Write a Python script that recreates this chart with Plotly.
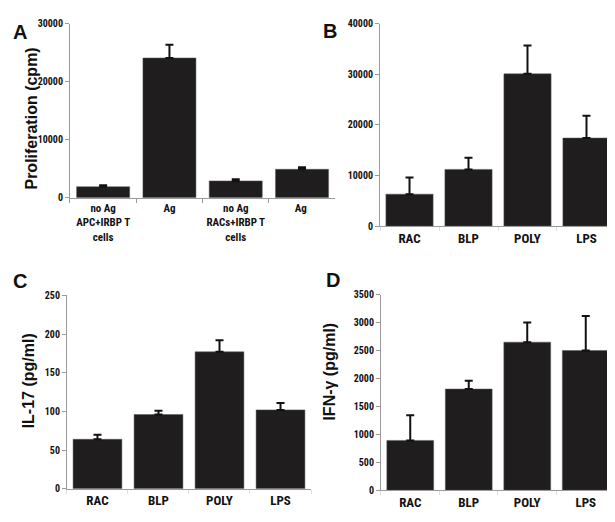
import plotly.graph_objects as go

# Panel A
a_cats = ["no Ag<br>APC+IRBP T<br>cells", "Ag", "no Ag<br>RACs+IRBP T<br>cells", "Ag "]
a_vals = [1900, 24100, 2900, 4900]
a_err = [250, 2300, 300, 350]
a_ticks = [0, 10000, 20000, 30000]

# Panels B-D share categories
cats = ["RAC", "BLP", "POLY", "LPS"]
b_vals = [6300, 11200, 30100, 17400]
b_err = [3300, 2300, 5600, 4400]
b_ticks = [0, 10000, 20000, 30000, 40000]

c_vals = [64, 96, 177, 102]
c_err = [6, 5, 15, 9]
c_ticks = [0, 50, 100, 150, 200, 250]

d_vals = [890, 1810, 2650, 2500]
d_err = [450, 150, 350, 620]
d_ticks = [0, 500, 1000, 1500, 2000, 2500, 3000, 3500]

y_titles = ["Proliferation (cpm)", "IL-17 (pg/ml)", "IFN-γ (pg/ml)"]

BAR = "#201d1e"
FONT = "Roboto Condensed, Liberation Sans Narrow, Arial Narrow, DejaVu Sans Condensed, Liberation Sans, sans-serif"
AXC = "#9a9a9a"

fig = go.Figure()

panels = [
    (a_cats, a_vals, a_err, "x", "y"),
    (cats, b_vals, b_err, "x2", "y2"),
    (cats, c_vals, c_err, "x3", "y3"),
    (cats, d_vals, d_err, "x4", "y4"),
]
for cx, v, e, xa, ya in panels:
    fig.add_trace(go.Bar(
        x=cx, y=v, xaxis=xa, yaxis=ya,
        marker=dict(color=BAR, line=dict(color="#555", width=0.5)),
        error_y=dict(type="data", symmetric=False, array=e, arrayminus=[0]*len(e),
                     color="#111", thickness=2, width=4),
        showlegend=False,
    ))

tickfont = dict(family=FONT, size=10, color="#111", weight="bold")

def xax(domain, anchor, tickcolor, tickfont_):
    return dict(domain=domain, anchor=anchor, showline=True, linecolor=AXC, linewidth=1,
                ticks="outside", tickson="boundaries", ticklen=4, tickcolor=tickcolor,
                tickangle=0, tickfont=tickfont_, showgrid=False, zeroline=False, fixedrange=True)

def yax(domain, anchor, rng, tv):
    return dict(domain=domain, anchor=anchor, range=rng, tickvals=tv, tickformat="d",
                showline=True, linecolor=AXC, linewidth=1, ticks="outside", ticklen=4,
                tickcolor=AXC, tickfont=tickfont, showgrid=False, zeroline=False,
                fixedrange=True)

xfont_a = dict(family=FONT, size=11, color="#111", weight="bold")
xfont = dict(family=FONT, size=13, color="#111", weight="bold")

fig.update_layout(
    width=615, height=522, margin=dict(l=0, r=0, t=0, b=0),
    paper_bgcolor="white", plot_bgcolor="white", bargap=0.2,
    xaxis=xax([0.1008, 0.532], "y", AXC, xfont_a),
    yaxis=yax([0.6398, 0.9808], "x", [0, 30000], a_ticks),
    xaxis2=xax([0.6049, 0.9886], "y2", "#e0e0e0", xfont),
    yaxis2=yax([0.5843, 0.9808], "x2", [0, 40000], b_ticks),
    xaxis3=xax([0.0959, 0.4927], "y3", "#e0e0e0", xfont),
    yaxis3=yax([0.0690, 0.4483], "x3", [0, 250], c_ticks),
    xaxis4=xax([0.6065, 0.987], "y4", "#e0e0e0", xfont),
    yaxis4=yax([0.0665, 0.4496], "x4", [0, 3500], d_ticks),
)

title_pos = [(24, 107), (20, 376), (322, 366)]
for t, (px, py) in zip(y_titles, title_pos):
    fig.add_annotation(text=t, x=px / 615, y=1 - py / 522, xref="paper", yref="paper",
                       showarrow=False, textangle=-90, xanchor="center", yanchor="middle",
                       font=dict(family="Liberation Sans, Arial, sans-serif", size=16,
                                 color="#111", weight="bold"))

letters = [("A", 12, 18), ("B", 322, 17), ("C", 12, 273), ("D", 325, 272)]
for t, px, py in letters:
    fig.add_annotation(text=t, x=px / 615, y=1 - py / 522, xref="paper", yref="paper",
                       showarrow=False, xanchor="center", yanchor="middle",
                       font=dict(family="Liberation Sans, Arial, sans-serif", size=20,
                                 color="#111", weight="bold"))

fig.write_html("out.html")
